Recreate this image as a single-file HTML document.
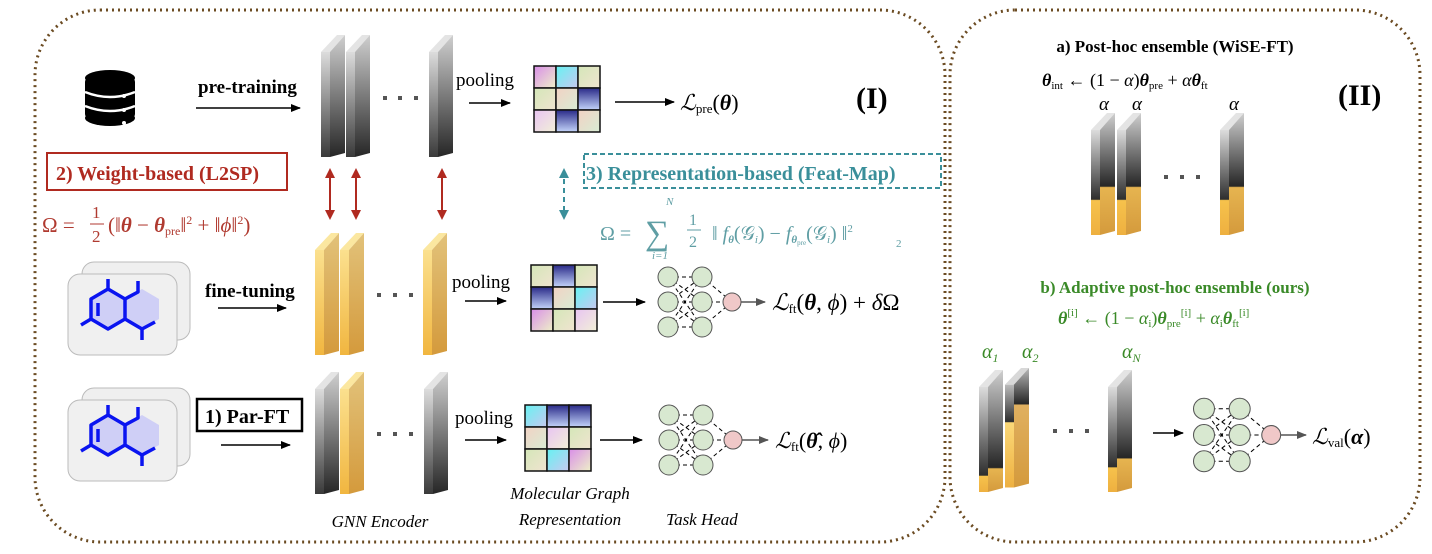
<!DOCTYPE html>
<html><head><meta charset="utf-8"><style>
html,body{margin:0;padding:0;background:#fff;width:1432px;height:554px;overflow:hidden}
svg{display:block}
text{font-family:"Liberation Serif",serif}
</style></head><body>
<svg width="1432" height="554" viewBox="0 0 1432 554" xmlns="http://www.w3.org/2000/svg">
<defs>
<linearGradient id="gG" x1="0" y1="0" x2="0" y2="1"><stop offset="0" stop-color="#cfcfcf"/><stop offset="1" stop-color="#262626"/></linearGradient>
<linearGradient id="gGs" x1="0" y1="0" x2="0" y2="1"><stop offset="0" stop-color="#dcdcdc"/><stop offset="1" stop-color="#3a3a3a"/></linearGradient>
<linearGradient id="gY" x1="0" y1="0" x2="0" y2="1"><stop offset="0" stop-color="#e2c27a"/><stop offset="1" stop-color="#d49a3c"/></linearGradient>
<linearGradient id="gYs" x1="0" y1="0" x2="0" y2="1"><stop offset="0" stop-color="#fbe08e"/><stop offset="1" stop-color="#f1b640"/></linearGradient>
<linearGradient id="ma" x1="0" y1="0" x2="0" y2="1"><stop offset="0" stop-color="#cfcfcf"/><stop offset="0.6" stop-color="#262626"/><stop offset="0.61" stop-color="#e6b450"/><stop offset="1" stop-color="#d49a3c"/></linearGradient>
<linearGradient id="mas" x1="0" y1="0" x2="0" y2="1"><stop offset="0" stop-color="#dcdcdc"/><stop offset="0.66" stop-color="#2e2e2e"/><stop offset="0.67" stop-color="#f6c24c"/><stop offset="1" stop-color="#eeb040"/></linearGradient>
<linearGradient id="m1" x1="0" y1="0" x2="0" y2="1"><stop offset="0" stop-color="#cfcfcf"/><stop offset="0.8" stop-color="#262626"/><stop offset="0.81" stop-color="#e6b450"/><stop offset="1" stop-color="#d49a3c"/></linearGradient>
<linearGradient id="m1s" x1="0" y1="0" x2="0" y2="1"><stop offset="0" stop-color="#dcdcdc"/><stop offset="0.84" stop-color="#2e2e2e"/><stop offset="0.85" stop-color="#f6c24c"/><stop offset="1" stop-color="#eeb040"/></linearGradient>
<linearGradient id="m2" x1="0" y1="0" x2="0" y2="1"><stop offset="0" stop-color="#b8b8b8"/><stop offset="0.3" stop-color="#262626"/><stop offset="0.31" stop-color="#e0b060"/><stop offset="1" stop-color="#d49a3c"/></linearGradient>
<linearGradient id="m2s" x1="0" y1="0" x2="0" y2="1"><stop offset="0" stop-color="#bbb"/><stop offset="0.36" stop-color="#2e2e2e"/><stop offset="0.37" stop-color="#fbd878"/><stop offset="1" stop-color="#eeb040"/></linearGradient>
<linearGradient id="m3" x1="0" y1="0" x2="0" y2="1"><stop offset="0" stop-color="#cfcfcf"/><stop offset="0.72" stop-color="#262626"/><stop offset="0.73" stop-color="#e6b450"/><stop offset="1" stop-color="#d49a3c"/></linearGradient>
<linearGradient id="m3s" x1="0" y1="0" x2="0" y2="1"><stop offset="0" stop-color="#dcdcdc"/><stop offset="0.76" stop-color="#2e2e2e"/><stop offset="0.77" stop-color="#f6c24c"/><stop offset="1" stop-color="#eeb040"/></linearGradient>
<linearGradient id="c1" x1="0" y1="0" x2="1" y2="1"><stop offset="0" stop-color="#d98ee8"/><stop offset="1" stop-color="#eef0c8"/></linearGradient>
<linearGradient id="c2" x1="0" y1="0" x2="1" y2="1"><stop offset="0" stop-color="#66f2f2"/><stop offset="1" stop-color="#c8c8f0"/></linearGradient>
<linearGradient id="c3" x1="0" y1="0" x2="1" y2="1"><stop offset="0" stop-color="#d4e6b8"/><stop offset="1" stop-color="#f0e4d0"/></linearGradient>
<linearGradient id="c4" x1="0" y1="0" x2="1" y2="1"><stop offset="0" stop-color="#f2d2c4"/><stop offset="1" stop-color="#d8ecd4"/></linearGradient>
<linearGradient id="c5" x1="0" y1="0" x2="0" y2="1"><stop offset="0" stop-color="#2a2a88"/><stop offset="1" stop-color="#c4d4fa"/></linearGradient>
<linearGradient id="c6" x1="0" y1="0" x2="1" y2="1"><stop offset="0" stop-color="#e8c4f2"/><stop offset="1" stop-color="#f2f0d8"/></linearGradient>
<marker id="ah" markerWidth="10" markerHeight="8" refX="9" refY="4" orient="auto" markerUnits="userSpaceOnUse"><path d="M0,0 L10,4 L0,8 z" fill="#000"/></marker>
<marker id="ahg" markerWidth="10" markerHeight="8" refX="9" refY="4" orient="auto" markerUnits="userSpaceOnUse"><path d="M0,0 L10,4 L0,8 z" fill="#555"/></marker>
<marker id="ahr" markerWidth="10" markerHeight="10" refX="8" refY="5" orient="auto-start-reverse" markerUnits="userSpaceOnUse"><path d="M0,0 L10,5 L0,10 z" fill="#b02a20"/></marker>
<marker id="aht" markerWidth="10" markerHeight="10" refX="8" refY="5" orient="auto-start-reverse" markerUnits="userSpaceOnUse"><path d="M0,0 L10,5 L0,10 z" fill="#3a8f9a"/></marker>
<g id="slabG"><polygon points="0,17 9,17 9,122 0,122" fill="url(#gGs)"/><polygon points="0,17 16,0 24,0 9,17" fill="#e4e4e4"/><polygon points="9,17 24,0 24,118 9,122" fill="url(#gG)"/></g>
<g id="slabY"><polygon points="0,17 9,17 9,122 0,122" fill="url(#gYs)"/><polygon points="0,17 16,0 24,0 9,17" fill="#fbe7a0"/><polygon points="9,17 24,0 24,118 9,122" fill="url(#gY)"/></g>
<g id="sA"><polygon points="0,17 9,17 9,122 0,122" fill="url(#mas)"/><polygon points="0,17 16,0 24,0 9,17" fill="#e4e4e4"/><polygon points="9,17 24,0 24,118 9,122" fill="url(#ma)"/></g>
<g id="s1"><polygon points="0,17 9,17 9,122 0,122" fill="url(#m1s)"/><polygon points="0,17 16,0 24,0 9,17" fill="#e4e4e4"/><polygon points="9,17 24,0 24,118 9,122" fill="url(#m1)"/></g>
<g id="s2"><polygon points="0,17 9,17 9,122 0,122" fill="url(#m2s)"/><polygon points="0,17 16,0 24,0 9,17" fill="#d8d8d8"/><polygon points="9,17 24,0 24,118 9,122" fill="url(#m2)"/></g>
<g id="s3"><polygon points="0,17 9,17 9,122 0,122" fill="url(#m3s)"/><polygon points="0,17 16,0 24,0 9,17" fill="#e4e4e4"/><polygon points="9,17 24,0 24,118 9,122" fill="url(#m3)"/></g>
<g id="net">
<g stroke="#000" stroke-width="1" stroke-dasharray="4,3" fill="none">
<line x1="0" y1="-25" x2="34" y2="-25"/><line x1="0" y1="-25" x2="34" y2="0"/><line x1="0" y1="-25" x2="34" y2="25"/>
<line x1="0" y1="0" x2="34" y2="-25"/><line x1="0" y1="0" x2="34" y2="0"/><line x1="0" y1="0" x2="34" y2="25"/>
<line x1="0" y1="25" x2="34" y2="-25"/><line x1="0" y1="25" x2="34" y2="0"/><line x1="0" y1="25" x2="34" y2="25"/>
<line x1="34" y1="-25" x2="64" y2="0"/><line x1="34" y1="0" x2="64" y2="0"/><line x1="34" y1="25" x2="64" y2="0"/>
</g>
<g fill="#d8e8d0" stroke="#555" stroke-width="1">
<circle cx="0" cy="-25" r="10"/><circle cx="0" cy="0" r="10"/><circle cx="0" cy="25" r="10"/>
<circle cx="34" cy="-25" r="10"/><circle cx="34" cy="0" r="10"/><circle cx="34" cy="25" r="10"/>
</g>
<circle cx="64" cy="0" r="9" fill="#f0c8c8" stroke="#555"/>
</g>
<g id="mol">
<rect x="14" y="-12" width="108" height="78" rx="12" fill="#efefef" stroke="#bbb"/>
<rect x="0" y="0" width="109" height="81" rx="12" fill="#f0f0f0" stroke="#bbb"/>
<polygon points="40,15 57,25 57,45 40,55 23,45 23,25" fill="#cfcff6"/>
<polygon points="74,15 91,25 91,45 74,55 57,45 57,25" fill="#cfcff6"/>
<g stroke="#0a14f0" stroke-width="3.5" fill="none" stroke-linejoin="round">
<polygon points="40,15 57,25 57,45 40,55 23,45 23,25"/>
<line x1="40" y1="15" x2="40" y2="5"/><line x1="23" y1="45" x2="13" y2="51"/>
<line x1="30" y1="29" x2="30" y2="42"/>
<polyline points="57,25 70,18 70,7"/>
<polyline points="57,45 74,55 87,48"/><line x1="74" y1="55" x2="74" y2="66"/>
</g>
</g>
</defs>

<!-- borders -->
<rect x="35" y="10" width="910" height="532" rx="65" fill="none" stroke="#6b4b22" stroke-width="3" stroke-dasharray="2,4"/>
<rect x="950" y="10" width="470" height="532" rx="65" fill="none" stroke="#6b4b22" stroke-width="3" stroke-dasharray="2,4"/>

<!-- database -->
<g fill="#000">
<ellipse cx="110" cy="78" rx="25" ry="8"/>
<rect x="85" y="78" width="50" height="40" rx="4"/>
<ellipse cx="110" cy="118" rx="25" ry="8"/>
</g>
<g stroke="#fff" stroke-width="2.5" fill="none"><path d="M85,92 Q110,102 135,92"/><path d="M85,106 Q110,116 135,106"/></g>
<g fill="#fff"><circle cx="124" cy="96" r="2"/><circle cx="124" cy="110" r="2"/><circle cx="124" cy="123" r="2"/></g>

<text x="198" y="93" font-size="19" font-weight="bold">pre-training</text>
<line x1="196" y1="108" x2="300" y2="108" stroke="#000" stroke-width="1.5" marker-end="url(#ah)"/>

<!-- top slabs -->
<use href="#slabG" transform="translate(321,35)"/>
<use href="#slabG" transform="translate(346,35)"/>
<use href="#slabG" transform="translate(429,35)"/>
<g fill="#555"><rect x="383" y="96" width="4" height="4"/><rect x="398" y="96" width="4" height="4"/><rect x="414" y="96" width="4" height="4"/></g>
<text x="456" y="86" font-size="19">pooling</text>
<line x1="469" y1="103" x2="510" y2="103" stroke="#000" stroke-width="1.5" marker-end="url(#ah)"/>
<g stroke="#111" stroke-width="1.5">
<rect x="534" y="66" width="22" height="22" fill="url(#c1)"/><rect x="556" y="66" width="22" height="22" fill="url(#c2)"/><rect x="578" y="66" width="22" height="22" fill="url(#c3)"/>
<rect x="534" y="88" width="22" height="22" fill="url(#c3)"/><rect x="556" y="88" width="22" height="22" fill="url(#c4)"/><rect x="578" y="88" width="22" height="22" fill="url(#c5)"/>
<rect x="534" y="110" width="22" height="22" fill="url(#c6)"/><rect x="556" y="110" width="22" height="22" fill="url(#c5)"/><rect x="578" y="110" width="22" height="22" fill="url(#c4)"/>
</g>
<line x1="615" y1="102" x2="674" y2="102" stroke="#000" stroke-width="1.5" marker-end="url(#ah)"/>
<text x="680" y="110" font-size="22" font-style="italic">ℒ<tspan font-size="13" font-style="normal" dy="3">pre</tspan><tspan dy="-3" font-style="normal">(</tspan><tspan font-weight="bold">θ</tspan><tspan font-style="normal">)</tspan></text>
<text x="856" y="108" font-size="30" font-weight="bold">(I)</text>

<!-- red L2SP -->
<rect x="47" y="153" width="240" height="37" fill="none" stroke="#b02a20" stroke-width="2"/>
<text x="56" y="180" font-size="20" font-weight="bold" fill="#b02a20">2) Weight-based (L2SP)</text>
<g fill="#b03a30" font-size="21">
<text x="42" y="232">Ω =</text>
<text x="92" y="218" font-size="17">1</text><line x1="90" y1="224" x2="104" y2="224" stroke="#b03a30"/><text x="92" y="242" font-size="17">2</text>
<text x="108" y="232">(‖<tspan font-weight="bold" font-style="italic">θ</tspan> − <tspan font-weight="bold" font-style="italic">θ</tspan><tspan font-size="12" dy="3">pre</tspan><tspan dy="-3">‖</tspan><tspan font-size="12" dy="-8">2</tspan><tspan dy="8"> + ‖</tspan><tspan font-style="italic">ϕ</tspan>‖<tspan font-size="12" dy="-8">2</tspan><tspan dy="8">)</tspan></text>
</g>
<g stroke="#b02a20" stroke-width="2">
<line x1="330" y1="170" x2="330" y2="218" marker-start="url(#ahr)" marker-end="url(#ahr)"/>
<line x1="356" y1="170" x2="356" y2="218" marker-start="url(#ahr)" marker-end="url(#ahr)"/>
<line x1="442" y1="170" x2="442" y2="218" marker-start="url(#ahr)" marker-end="url(#ahr)"/>
</g>
<line x1="564" y1="170" x2="564" y2="218" stroke="#3a8f9a" stroke-width="2" stroke-dasharray="5,4" marker-start="url(#aht)" marker-end="url(#aht)"/>
<rect x="584" y="154" width="357" height="34" fill="none" stroke="#3a8f9a" stroke-width="2" stroke-dasharray="5,3"/>
<text x="586" y="180" font-size="20" font-weight="bold" fill="#3a8f9a">3) Representation-based (Feat-Map)</text>
<g fill="#5f9ea4" font-size="20">
<text x="600" y="240">Ω =</text>
<text x="645" y="244" font-size="34">∑</text>
<text x="666" y="205" font-size="11" font-style="italic">N</text>
<text x="652" y="259" font-size="11" font-style="italic">i=1</text>
<text x="689" y="225" font-size="16">1</text><line x1="687" y1="230" x2="701" y2="230" stroke="#5f9ea4"/><text x="689" y="247" font-size="16">2</text>
<text x="712" y="240">‖ <tspan font-style="italic">f</tspan><tspan font-size="11" dy="3" font-weight="bold" font-style="italic">θ</tspan><tspan dy="-3">(𝒢</tspan><tspan font-size="11" dy="3" font-style="italic">i</tspan><tspan dy="-3">) − </tspan><tspan font-style="italic">f</tspan><tspan font-size="11" dy="3" font-weight="bold" font-style="italic">θ</tspan><tspan font-size="7" dy="2">pre</tspan><tspan dy="-5">(𝒢</tspan><tspan font-size="11" dy="3" font-style="italic">i</tspan><tspan dy="-3">) ‖</tspan><tspan font-size="11" dy="-8">2</tspan></text>
<text x="896" y="247" font-size="11">2</text>
</g>

<!-- middle row -->
<use href="#mol" transform="translate(68,274)"/>
<text x="205" y="297" font-size="19" font-weight="bold">fine-tuning</text>
<line x1="218" y1="308" x2="286" y2="308" stroke="#000" stroke-width="1.5" marker-end="url(#ah)"/>
<use href="#slabY" transform="translate(315,233)"/>
<use href="#slabY" transform="translate(340,233)"/>
<use href="#slabY" transform="translate(423,233)"/>
<g fill="#555"><rect x="377" y="293" width="4" height="4"/><rect x="393" y="293" width="4" height="4"/><rect x="409" y="293" width="4" height="4"/></g>
<text x="452" y="288" font-size="19">pooling</text>
<line x1="465" y1="301" x2="506" y2="301" stroke="#000" stroke-width="1.5" marker-end="url(#ah)"/>
<g stroke="#111" stroke-width="1.5">
<rect x="531" y="265" width="22" height="22" fill="url(#c3)"/><rect x="553" y="265" width="22" height="22" fill="url(#c5)"/><rect x="575" y="265" width="22" height="22" fill="url(#c3)"/>
<rect x="531" y="287" width="22" height="22" fill="url(#c5)"/><rect x="553" y="287" width="22" height="22" fill="url(#c4)"/><rect x="575" y="287" width="22" height="22" fill="url(#c2)"/>
<rect x="531" y="309" width="22" height="22" fill="url(#c1)"/><rect x="553" y="309" width="22" height="22" fill="url(#c3)"/><rect x="575" y="309" width="22" height="22" fill="url(#c6)"/>
</g>
<line x1="603" y1="302" x2="645" y2="302" stroke="#000" stroke-width="1.5" marker-end="url(#ah)"/>
<use href="#net" transform="translate(668,302)"/>
<line x1="741" y1="302" x2="765" y2="302" stroke="#555" stroke-width="1.5" marker-end="url(#ahg)"/>
<text x="772" y="310" font-size="23" font-style="italic">ℒ<tspan font-size="13" font-style="normal" dy="3">ft</tspan><tspan dy="-3" font-style="normal">(</tspan><tspan font-weight="bold">θ</tspan><tspan font-style="normal">, </tspan>ϕ<tspan font-style="normal">) + </tspan>δ<tspan font-style="normal">Ω</tspan></text>

<!-- bottom row -->
<use href="#mol" transform="translate(68,400)"/>
<rect x="197" y="399" width="105" height="32" fill="none" stroke="#000" stroke-width="2.5"/>
<text x="205" y="423" font-size="20" font-weight="bold">1) Par-FT</text>
<line x1="221" y1="445" x2="290" y2="445" stroke="#000" stroke-width="1.5" marker-end="url(#ah)"/>
<use href="#slabG" transform="translate(315,372)"/>
<use href="#slabY" transform="translate(340,372)"/>
<use href="#slabG" transform="translate(424,372)"/>
<g fill="#555"><rect x="377" y="432" width="4" height="4"/><rect x="393" y="432" width="4" height="4"/><rect x="409" y="432" width="4" height="4"/></g>
<text x="455" y="424" font-size="19">pooling</text>
<line x1="465" y1="440" x2="506" y2="440" stroke="#000" stroke-width="1.5" marker-end="url(#ah)"/>
<g stroke="#111" stroke-width="1.5">
<rect x="525" y="405" width="22" height="22" fill="url(#c2)"/><rect x="547" y="405" width="22" height="22" fill="url(#c5)"/><rect x="569" y="405" width="22" height="22" fill="url(#c5)"/>
<rect x="525" y="427" width="22" height="22" fill="url(#c4)"/><rect x="547" y="427" width="22" height="22" fill="url(#c6)"/><rect x="569" y="427" width="22" height="22" fill="url(#c3)"/>
<rect x="525" y="449" width="22" height="22" fill="url(#c3)"/><rect x="547" y="449" width="22" height="22" fill="url(#c2)"/><rect x="569" y="449" width="22" height="22" fill="url(#c1)"/>
</g>
<line x1="600" y1="440" x2="642" y2="440" stroke="#000" stroke-width="1.5" marker-end="url(#ah)"/>
<use href="#net" transform="translate(669,440)"/>
<line x1="742" y1="440" x2="768" y2="440" stroke="#555" stroke-width="1.5" marker-end="url(#ahg)"/>
<text x="775" y="448" font-size="22" font-style="italic">ℒ<tspan font-size="13" font-style="normal" dy="3">ft</tspan><tspan dy="-3" font-style="normal">(</tspan><tspan font-weight="bold">θ̂</tspan><tspan font-style="normal">, </tspan>ϕ<tspan font-style="normal">)</tspan></text>

<g font-size="17" font-style="italic" text-anchor="middle">
<text x="380" y="527">GNN Encoder</text>
<text x="570" y="499">Molecular Graph</text>
<text x="570" y="525">Representation</text>
<text x="702" y="525">Task Head</text>
</g>

<!-- right panel -->
<text x="1175" y="52" font-size="17" font-weight="bold" text-anchor="middle">a) Post-hoc ensemble (WiSE-FT)</text>
<text x="1042" y="86" font-size="18"><tspan font-weight="bold" font-style="italic">θ</tspan><tspan font-size="11" dy="3">int</tspan><tspan dy="-3"> ← (1 − </tspan><tspan font-style="italic">α</tspan>)<tspan font-weight="bold" font-style="italic">θ</tspan><tspan font-size="11" dy="3">pre</tspan><tspan dy="-3"> + </tspan><tspan font-style="italic">α</tspan><tspan font-weight="bold" font-style="italic">θ</tspan><tspan font-size="11" dy="3">ft</tspan></text>
<text x="1338" y="105" font-size="30" font-weight="bold">(II)</text>
<g font-size="19" font-style="italic"><text x="1099" y="110">α</text><text x="1132" y="110">α</text><text x="1229" y="110">α</text></g>
<use href="#sA" transform="translate(1091,113)"/>
<use href="#sA" transform="translate(1117,113)"/>
<use href="#sA" transform="translate(1220,113)"/>
<g fill="#555"><rect x="1164" y="175" width="4" height="4"/><rect x="1180" y="175" width="4" height="4"/><rect x="1196" y="175" width="4" height="4"/></g>

<text x="1175" y="293" font-size="17" font-weight="bold" fill="#3a8a28" text-anchor="middle">b) Adaptive post-hoc ensemble (ours)</text>
<text x="1058" y="324" font-size="18" fill="#3a8a28"><tspan font-weight="bold" font-style="italic">θ</tspan><tspan font-size="11" dy="-8">[i]</tspan><tspan dy="8"> ← (1 − </tspan><tspan font-style="italic">α</tspan><tspan font-size="11" dy="3">i</tspan><tspan dy="-3">)</tspan><tspan font-weight="bold" font-style="italic">θ</tspan><tspan font-size="11" dy="3">pre</tspan><tspan font-size="11" dy="-11">[i]</tspan><tspan dy="8"> + </tspan><tspan font-style="italic">α</tspan><tspan font-size="11" dy="3">i</tspan><tspan dy="-3" font-weight="bold" font-style="italic">θ</tspan><tspan font-size="11" dy="3">ft</tspan><tspan font-size="11" dy="-11">[i]</tspan></text>
<g font-size="20" font-style="italic" fill="#3a8a28"><text x="982" y="358">α<tspan font-size="12" dy="4">1</tspan></text><text x="1022" y="358">α<tspan font-size="12" dy="4">2</tspan></text><text x="1122" y="358">α<tspan font-size="12" dy="4">N</tspan></text></g>
<use href="#s1" transform="translate(979,370)"/>
<use href="#s2" transform="translate(1005,368) scale(1,0.98)"/>
<use href="#s3" transform="translate(1108,370)"/>
<g fill="#555"><rect x="1053" y="429" width="4" height="4"/><rect x="1069" y="429" width="4" height="4"/><rect x="1085" y="429" width="4" height="4"/></g>
<line x1="1153" y1="433" x2="1183" y2="433" stroke="#000" stroke-width="1.5" marker-end="url(#ah)"/>
<use href="#net" transform="translate(1204,435) scale(1.05)"/>
<line x1="1281" y1="435" x2="1306" y2="435" stroke="#555" stroke-width="1.5" marker-end="url(#ahg)"/>
<text x="1312" y="444" font-size="22" font-style="italic">ℒ<tspan font-size="13" font-style="normal" dy="3">val</tspan><tspan dy="-3" font-style="normal">(</tspan><tspan font-weight="bold">α</tspan><tspan font-style="normal">)</tspan></text>
</svg>
</body></html>
